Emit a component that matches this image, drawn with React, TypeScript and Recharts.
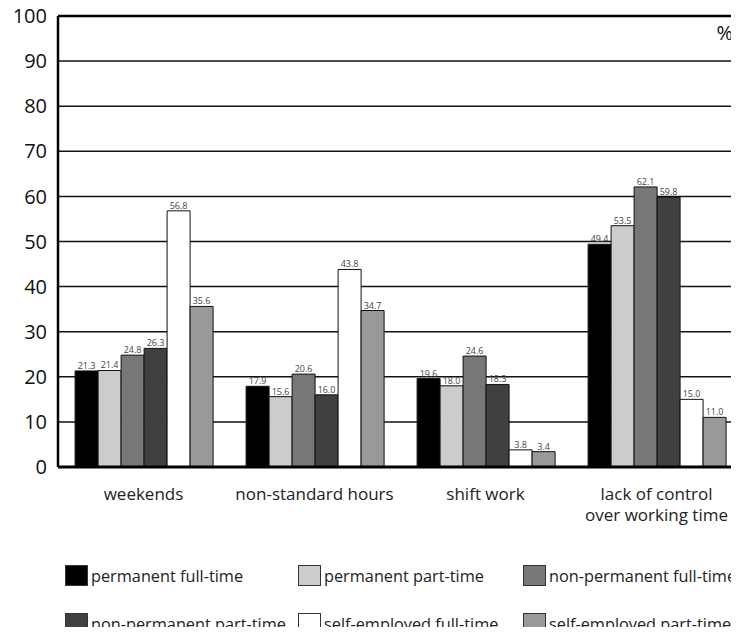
import React from 'react';
import { BarChart, Bar, XAxis, YAxis, CartesianGrid, LabelList, Legend, ReferenceLine } from 'recharts';

const categories = ['weekends', 'non-standard hours', 'shift work', 'lack of control\nover working time'];
const seriesNames = [
  'permanent full-time',
  'permanent part-time',
  'non-permanent full-time',
  'non-permanent part-time',
  'self-employed full-time',
  'self-employed part-time',
];
const permanentFull = [21.3, 17.9, 19.6, 49.4];
const permanentPart = [21.4, 15.6, 18.0, 53.5];
const nonPermanentFull = [24.8, 20.6, 24.6, 62.1];
const nonPermanentPart = [26.3, 16.0, 18.3, 59.8];
const selfEmployedFull = [56.8, 43.8, 3.8, 15.0];
const selfEmployedPart = [35.6, 34.7, 3.4, 11.0];
const yTicks = [0, 10, 20, 30, 40, 50, 60, 70, 80, 90, 100];

const seriesValues = [permanentFull, permanentPart, nonPermanentFull, nonPermanentPart, selfEmployedFull, selfEmployedPart];
const keys = ['s0', 's1', 's2', 's3', 's4', 's5'];
const colors = ['#000000', '#cccccc', '#777777', '#404040', '#ffffff', '#999999'];

const data = categories.map((c, i) => {
  const row: any = { name: c };
  keys.forEach((k, j) => (row[k] = seriesValues[j][i]));
  return row;
});

const FONT = '"Open Sans", Lato, sans-serif';

const CatTick = (props: any) => {
  const { x, y, payload } = props;
  const lines = String(payload.value).split('\n');
  return (
    <g>
      {lines.map((l, i) => (
        <text key={i} x={x} y={y + 31 + i * 20.5} textAnchor="middle" fontSize={17} fill="#222" fontFamily={FONT}>
          {l}
        </text>
      ))}
    </g>
  );
};

const LegendContent = () => {
  const colX = [57, 290, 515];
  const rowY = [565, 613];
  return (
    <div style={{ position: 'relative', width: 734, height: 635 }}>
      {seriesNames.map((n, i) => {
        const col = i % 3;
        const row = Math.floor(i / 3);
        return (
          <div key={n} style={{ position: 'absolute', left: colX[col], top: rowY[row], display: 'flex', alignItems: 'center', whiteSpace: 'nowrap' }}>
            <div style={{ width: 21, height: 19, background: colors[i], border: '1px solid #333', boxSizing: 'content-box' as any }} />
            <span style={{ marginLeft: 3, fontSize: 16.3, fontFamily: FONT, color: '#222', lineHeight: '20px' }}>{n}</span>
          </div>
        );
      })}
    </div>
  );
};

export default function App() {
  return (
    <div style={{ marginTop: -8, marginBottom: -8, width: 731, height: 635, overflow: 'hidden' }}>
      <BarChart
        width={734}
        height={635}
        data={data}
        margin={{ top: 16, right: 0, left: 0, bottom: 108 }}
        barCategoryGap="10%"
        barGap={0}
      >
        <CartesianGrid vertical={false} stroke="#111" strokeWidth={1.5} />
        <XAxis
          dataKey="name"
          height={60}
          tick={<CatTick />}
          tickLine={false}
          tickSize={0}
          axisLine={{ stroke: '#000', strokeWidth: 3 }}
          interval={0}
        />
        <YAxis
          width={50}
          domain={[0, 100]}
          ticks={yTicks}
          tickLine={false}
          tickSize={9}
          axisLine={{ stroke: '#000', strokeWidth: 2.5 }}
          tick={{ fontSize: 20, fill: '#111', fontFamily: FONT }}
          interval={0}
        />
        <ReferenceLine
          y={100}
          stroke="#000"
          strokeWidth={2.5}
          label={(p: any) => {
            const vb = p.viewBox;
            return (
              <text x={vb.x + vb.width - 9} y={vb.y + 24} textAnchor="end" fontSize={20} fill="#111" fontFamily={FONT}>
                %
              </text>
            );
          }}
        />
        <Legend layout="horizontal" verticalAlign="middle" align="center" content={<LegendContent />} wrapperStyle={{ position: 'absolute', top: 0, left: 0, width: 734, height: 635, pointerEvents: 'none' }} />
        {keys.map((k, i) => (
          <Bar key={k} dataKey={k} name={seriesNames[i]} fill={colors[i]} stroke="#111" strokeWidth={1} isAnimationActive={false}>
            <LabelList dataKey={k} position="top" offset={2} fontSize={9} fill="#444" fontFamily={FONT} formatter={(v: any) => Number(v).toFixed(1)} />
          </Bar>
        ))}
      </BarChart>
    </div>
  );
}
